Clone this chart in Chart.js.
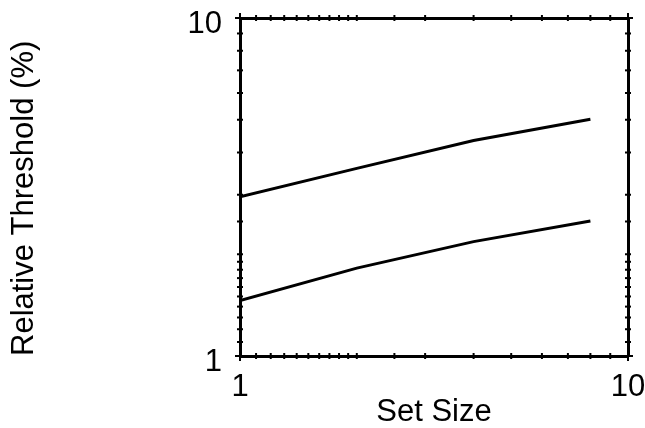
<!DOCTYPE html>
<html>
<head>
<meta charset="utf-8">
<script src="https://cdn.jsdelivr.net/npm/chart.js@4/dist/chart.umd.min.js"></script>
<style>
  html, body { margin: 0; padding: 0; background: #fff; }
  #wrap { width: 645px; height: 428px; }
</style>
</head>
<body>
<div id="wrap"><canvas id="chart"></canvas></div>
<script>
// set sizes on the x axis
var setSizes = [1, 2, 4, 8];
// relative thresholds (%) for the two curves
var upperCurve = [2.96, 3.59, 4.34, 5.02];
var lowerCurve = [1.46, 1.82, 2.18, 2.51];
// tick labels shown on both axes
var shownTicks = [1, 10];

var fontFamily = "'Liberation Sans', Arial, sans-serif";
var fontSize = 31;

function toPoints(xs, ys) {
    var pts = [];
    for (var i = 0; i < xs.length; i++) {
        pts.push({ x: xs[i], y: ys[i] });
    }
    return pts;
}

function tickLabel(value) {
    return shownTicks.indexOf(value) >= 0 ? String(value) : "";
}

// tick marks: majors stick out, minors are short nubs across the frame
var tickMarks = {
    id: "tickMarks",
    afterDraw: function (chart) {
        var ctx = chart.ctx;
        var area = chart.chartArea;
        ctx.save();
        ctx.strokeStyle = "#000";
        ctx.lineWidth = 2;
        ["x", "x2"].forEach(function (id) {
            var sc = chart.scales[id];
            var edge = id === "x" ? area.bottom : area.top;
            var dir = id === "x" ? 1 : -1;
            sc.ticks.forEach(function (t) {
                var px = sc.getPixelForValue(t.value);
                var major = shownTicks.indexOf(t.value) >= 0;
                ctx.beginPath();
                if (major) {
                    ctx.moveTo(px, edge + 5 * dir);
                    ctx.lineTo(px, edge);
                } else {
                    ctx.moveTo(px, edge - 3);
                    ctx.lineTo(px, edge + 3);
                }
                ctx.stroke();
            });
        });
        ["y", "y2"].forEach(function (id) {
            var sc = chart.scales[id];
            var edge = id === "y" ? area.left : area.right;
            var dir = id === "y" ? -1 : 1;
            sc.ticks.forEach(function (t) {
                var py = sc.getPixelForValue(t.value);
                var major = shownTicks.indexOf(t.value) >= 0;
                ctx.beginPath();
                if (major) {
                    ctx.moveTo(edge + 5 * dir, py);
                    ctx.lineTo(edge, py);
                } else {
                    ctx.moveTo(edge - 3, py);
                    ctx.lineTo(edge + 3, py);
                }
                ctx.stroke();
            });
        });
        ctx.restore();
    }
};

var ctx = document.getElementById("chart");

var lineStyle = {
    borderColor: "#000",
    backgroundColor: "#000",
    borderWidth: 3,
    pointRadius: 0,
    fill: false,
    tension: 0
};

var chart = new Chart(ctx, {
    type: "line",
    data: {
        datasets: [
            Object.assign({ label: "upper", data: toPoints(setSizes, upperCurve) }, lineStyle),
            Object.assign({ label: "lower", data: toPoints(setSizes, lowerCurve) }, lineStyle)
        ]
    },
    options: {
        responsive: true,
        maintainAspectRatio: false,
        animation: false,
        layout: { autoPadding: false, padding: { top: 18, right: 17, left: 0, bottom: 0 } },
        plugins: {
            legend: { display: false },
            tooltip: { enabled: false }
        },
        scales: {
            x: {
                type: "logarithmic",
                position: "bottom",
                min: 1,
                max: 10,
                afterFit: function (s) {
                    s.height = 72;
                    s.paddingLeft = 0;
                    s.paddingRight = 0;
                },
                border: { display: true, color: "#000", width: 3 },
                grid: { display: false },
                ticks: {
                    autoSkip: false,
                    maxRotation: 0,
                    padding: 5,
                    color: "#000",
                    font: { family: fontFamily, size: fontSize },
                    callback: tickLabel
                },
                title: {
                    display: true,
                    text: "Set Size",
                    color: "#000",
                    padding: { top: 0, bottom: 0 },
                    font: { family: fontFamily, size: fontSize, lineHeight: 1 }
                }
            },
            x2: {
                type: "logarithmic",
                position: "top",
                min: 1,
                max: 10,
                afterFit: function (s) { s.height = 0; },
                border: { display: true, color: "#000", width: 3 },
                grid: { display: false },
                ticks: { display: false }
            },
            y: {
                type: "logarithmic",
                position: "left",
                min: 1,
                max: 10,
                afterFit: function (s) {
                    s.width = 240;
                    s.paddingTop = 0;
                    s.paddingBottom = 0;
                },
                border: { display: true, color: "#000", width: 3 },
                grid: { display: false },
                ticks: {
                    autoSkip: false,
                    padding: 10,
                    labelOffset: 6,
                    color: "#000",
                    font: { family: fontFamily, size: fontSize },
                    callback: tickLabel
                },
                title: {
                    display: true,
                    text: "Relative Threshold (%)",
                    align: "start",
                    color: "#000",
                    padding: { top: 6, bottom: 0 },
                    font: { family: fontFamily, size: fontSize }
                }
            },
            y2: {
                type: "logarithmic",
                position: "right",
                min: 1,
                max: 10,
                afterFit: function (s) { s.width = 0; },
                border: { display: true, color: "#000", width: 3 },
                grid: { display: false },
                ticks: { display: false }
            }
        }
    },
    plugins: [tickMarks]
});
</script>
</body>
</html>
